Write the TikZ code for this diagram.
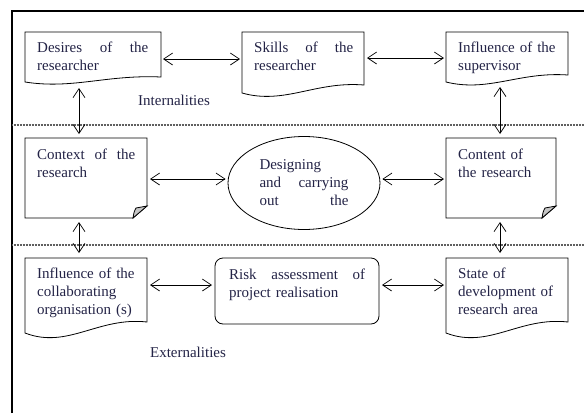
\documentclass[tikz,border=0pt]{standalone}
\usepackage{fontspec}
\setmainfont{Liberation Serif}
\usetikzlibrary{arrows.meta,calc,shapes.geometric}

\definecolor{inkblue}{RGB}{35,35,70}

\tikzset{
  boxline/.style={draw, line width=0.8pt},
  boxarea/.style={anchor=north west, inner sep=0pt, outer sep=0pt},
  boxtext/.style={anchor=north west, inner sep=0pt, align=left, text=inkblue, text width=#1},
  link/.style={<->, line width=0.7pt},
  divider/.style={gray!75!black, line width=1.4pt, dash pattern=on 0.8pt off 0.7pt},
}

\begin{document}
\begin{tikzpicture}[x=1pt, y=-1pt, >={Straight Barb[length=9pt,width=12pt]},
                    font=\fontsize{15}{18}\selectfont]
\useasboundingbox (0,0) rectangle (584,413);

% frame and layer dividers
\draw[line width=1.3pt] (12,413) -- (12,11) -- (584,11);
\draw[divider] (12,125) -- (584,125);
\draw[divider] (12,245) -- (584,245);

% box areas
\node[boxarea, minimum width=136pt, minimum height=50pt] (desires) at (25,32) {};
\node[boxarea, minimum width=122pt, minimum height=61pt] (skills) at (242,32) {};
\node[boxarea, minimum width=122pt, minimum height=50pt] (supervisor) at (446,32) {};
\node[boxarea, minimum width=122pt, minimum height=80pt] (context) at (25,138) {};
\node[boxarea, minimum width=110pt, minimum height=80pt] (content) at (446,138) {};
\node[boxarea, minimum width=122pt, minimum height=75pt] (collab) at (25,258) {};
\node[boxarea, minimum width=122pt, minimum height=75pt] (state) at (446,258) {};
\node[boxarea, boxline, rounded corners=8pt, minimum width=164pt, minimum height=66pt] (risk) at (215,258) {};
\node[ellipse, boxline, minimum width=152pt, minimum height=93pt, inner sep=0pt,
      text width=89pt, align=left, text=inkblue] (design) at (304,183)
  {Designing\\and \hfill carrying\\out \hfill the};

% document outlines with wavy bottom
\foreach \n/\w/\r in {desires/136/5, skills/122/8, supervisor/122/7, collab/122/11, state/122/11}
  \draw[boxline] (\n.north west) -- (\n.north east) -- ($(\n.south east)+(0,-\r)$)
    .. controls ($(\n.south west)+(0.6*\w,-1.5*\r)$) and ($(\n.south west)+(0.35*\w,1.5*\r)$)
    .. (\n.south west) -- cycle;

% notes with folded corner
\foreach \n in {context, content} {
  \draw[boxline] (\n.north west) -- (\n.north east) -- ($(\n.south east)+(0,-12)$)
    -- ($(\n.south east)+(-14,0)$) -- (\n.south west) -- cycle;
  \filldraw[boxline, fill=gray!45] ($(\n.south east)+(-14,0)$)
    .. controls ($(\n.south east)+(-13,-6)$) .. ($(\n.south east)+(-11,-10)$)
    -- ($(\n.south east)+(0,-12)$) -- cycle;
}

% texts
\node[boxtext=111pt] (desires-t) at ($(desires.north west)+(12,10)$) {Desires \hfill of \hfill the\\researcher};
\node[boxtext=99pt] (skills-t) at ($(skills.north west)+(12,10)$) {Skills \hfill of \hfill the\\researcher};
\node[boxtext=98pt] (supervisor-t) at ($(supervisor.north west)+(12,10)$) {Influence of the\\supervisor};
\node[boxtext=98pt] (context-t) at ($(context.north west)+(12,10.5)$) {Context \hfill of \hfill the\\research};
\node[boxtext=90pt] (content-t) at ($(content.north west)+(12,10.5)$) {Content of\\the research};
\node[boxtext=98pt] (collab-t) at ($(collab.north west)+(12,10)$) {Influence of the\\collaborating\\organisation (s)};
\node[boxtext=136pt] (risk-t) at ($(risk.north west)+(14,11)$) {Risk \hfill assessment \hfill of\\project realisation};
\node[boxtext=98pt] (state-t) at ($(state.north west)+(12,10)$) {State of\\development of\\research area};

\node[text=inkblue] (internal) at (174,100) {Internalities};
\node[text=inkblue] (external) at (188,352) {Externalities};

% horizontal links
\draw[link] ($(desires.north east)+(2,27)$) -- ($(skills.north west)+(-2,27)$);
\draw[link] ($(skills.north east)+(3,26)$) -- ($(supervisor.north west)+(-2,26)$);
\draw[link] ($(context.north east)+(3,41)$) -- ($(design.west)+(-2,-4)$);
\draw[link] ($(design.east)+(2,-4)$) -- ($(content.north west)+(-2,41)$);
\draw[link] ($(collab.north east)+(3,27)$) -- ($(risk.north west)+(-3,27)$);
\draw[link] ($(risk.north east)+(3,27)$) -- ($(state.north west)+(-2,27)$);

% vertical links across the dividers
\draw[link] ($(desires.south west)+(54,6)$) -- ($(context.north west)+(54,-4)$);
\draw[link] ($(supervisor.south west)+(54,5)$) -- ($(content.north west)+(54,-4)$);
\draw[link] ($(context.south west)+(54,4)$) -- ($(collab.north west)+(54,-5)$);
\draw[link] ($(content.south west)+(54,4)$) -- ($(state.north west)+(54,-5)$);

\end{tikzpicture}
\end{document}
